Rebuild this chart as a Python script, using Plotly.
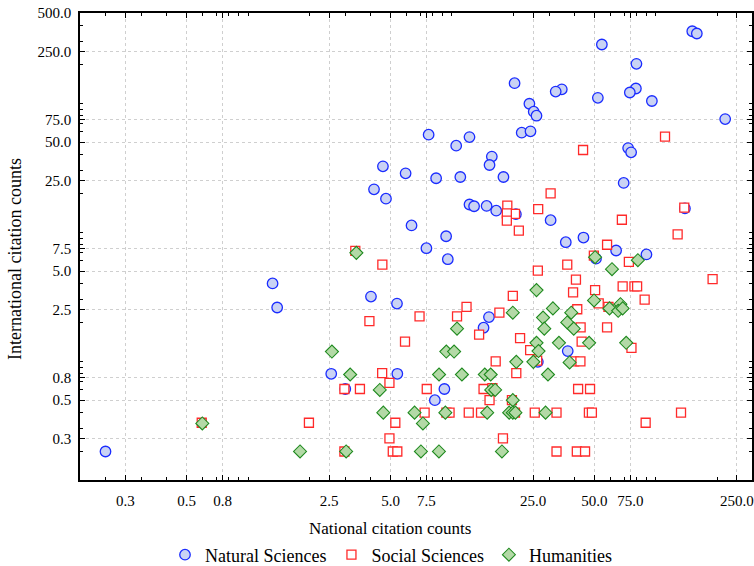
import plotly.graph_objects as go

# ---- data ----
nat_x = [151, 159, 54.4, 80.4, 20.3, 34.6, 32.3, 79.9, 74.6, 52.0, 95.7, 24.0, 25.2, 26.0, 219,
         7.69, 12.2, 22.0, 24.3, 10.5, 73.2, 75.7, 15.7, 15.3, 4.59, 5.93, 8.37, 11.0, 17.9, 69.6,
         4.15, 4.75, 12.2, 12.85, 14.8, 16.5, 20.6, 139, 6.34, 30.5, 9.37, 36.2, 44.2, 7.50, 63.9,
         9.55, 50.9, 90.0, 1.32, 1.39, 4.01, 5.38, 15.2, 14.3, 37.0, 26.4, 2.56, 3.00, 5.40, 9.19,
         8.25, 0.20]
nat_y = [361, 347, 285, 202, 143, 128, 123, 130, 121, 110, 104, 99, 86, 80, 75.3,
         57.0, 54.6, 59.1, 60.5, 46.9, 44.9, 41.6, 38.6, 33.2, 32.4, 28.6, 26.2, 26.8, 26.8, 24.1,
         21.5, 18.2, 16.4, 15.9, 16.0, 14.7, 13.8, 15.3, 11.3, 12.4, 9.31, 8.37, 9.10, 7.52, 7.22,
         6.18, 6.24, 6.73, 4.01, 2.61, 3.17, 2.80, 2.20, 1.82, 1.20, 0.99, 0.80, 0.61, 0.80, 0.61,
         0.50, 0.20]

soc_x = [111, 44.0, 30.5, 18.7, 20.4, 18.6, 18.6, 26.5, 21.3, 138, 68.2, 128, 57.7, 49.7, 73.8,
         36.8, 26.4, 4.56, 3.36, 40.6, 190, 68.8, 78.6, 81.0, 19.9, 39.3, 50.4, 52.5, 88.2, 11.8,
         6.94, 10.6, 17.1, 41.2, 58.6, 42.8, 57.7, 13.6, 5.89, 21.6, 43.3, 76.0, 24.2, 16.4, 26.2,
         39.8, 42.7, 3.94, 4.55, 20.7, 4.94, 7.53, 14.3, 15.8, 41.6, 47.6, 2.97, 3.54, 15.3, 19.7,
         0.593, 1.99, 7.35, 9.40, 9.74, 12.1, 13.9, 20.4, 25.5, 32.6, 47.0, 48.6, 133, 5.28, 89.2,
         4.94, 17.8, 2.97, 5.13, 5.40, 32.6, 41.0, 45.0]
soc_y = [55.1, 43.4, 20.0, 16.1, 13.9, 14.0, 12.3, 15.1, 10.3, 15.5, 12.5, 9.62, 8.00, 6.58, 5.89,
         5.62, 5.04, 5.62, 7.17, 4.29, 4.33, 3.80, 3.80, 3.80, 3.21, 3.42, 3.56, 2.81, 3.01, 2.64,
         2.23, 2.23, 2.38, 2.53, 2.64, 1.83, 1.83, 1.61, 1.42, 1.51, 1.42, 1.27, 1.22, 1.00, 1.01,
         1.00, 1.00, 2.05, 0.81, 0.81, 0.68, 0.61, 0.61, 0.62, 0.61, 0.61, 0.61, 0.61, 0.50, 0.50,
         0.334, 0.334, 0.40, 0.40, 0.40, 0.40, 0.40, 0.40, 0.40, 0.40, 0.40, 0.40, 0.40, 0.334, 0.334,
         0.253, 0.253, 0.20, 0.20, 0.20, 0.20, 0.20, 0.20]

hum_x = [3.40, 50.4, 81.7, 61.0, 26.0, 49.8, 67.1, 59.3, 65.4, 68.8, 31.3, 19.9, 38.5, 28.0, 36.8,
         28.4, 39.6, 10.6, 47.1, 71.6, 26.0, 33.5, 9.39, 10.25, 26.6, 20.7, 25.1, 37.8, 8.65, 11.2,
         14.5, 15.5, 29.6, 4.43, 15.6, 16.3, 19.9, 4.61, 6.56, 9.29, 14.9, 19.1, 19.9, 20.5, 28.8,
         7.21, 7.05, 8.64, 17.6, 2.58, 3.17, 0.597, 1.80, 3.03]
hum_y = [6.92, 6.41, 6.07, 5.17, 3.56, 2.96, 2.77, 2.57, 2.46, 2.57, 2.57, 2.38, 2.38, 2.18, 2.00,
         1.79, 1.79, 1.79, 1.39, 1.39, 1.39, 1.39, 1.19, 1.19, 1.20, 0.99, 0.99, 0.98, 0.79, 0.79,
         0.79, 0.79, 0.79, 0.60, 0.60, 0.60, 0.50, 0.40, 0.40, 0.40, 0.40, 0.40, 0.40, 0.40, 0.40,
         0.33, 0.20, 0.20, 0.20, 1.19, 0.79, 0.33, 0.20, 0.20]

x_tickvals = [0.25, 0.5, 0.75, 2.5, 5, 7.5, 25, 50, 75, 250]
x_ticktext = ["0.3", "0.5", "0.8", "2.5", "5.0", "7.5", "25.0", "50.0", "75.0", "250.0"]
y_tickvals = [0.25, 0.5, 0.75, 2.5, 5, 7.5, 25, 50, 75, 250, 500]
y_ticktext = ["0.3", "0.5", "0.8", "2.5", "5.0", "7.5", "25.0", "50.0", "75.0", "250.0", "500.0"]
minor_vals = [0.2, 0.3, 0.4, 0.6, 0.7, 0.8, 0.9, 1, 2, 3, 4, 6, 7, 8, 9, 10,
              20, 30, 40, 60, 70, 80, 90, 100, 200, 300, 400]

FONT = "Liberation Serif"

fig = go.Figure()
fig.add_trace(go.Scatter(
    x=nat_x, y=nat_y, mode="markers", name="Natural Sciences",
    marker=dict(symbol="circle", size=10.5, color="#cad3f4",
                line=dict(color="#1a2cff", width=1.3))))
fig.add_trace(go.Scatter(
    x=soc_x, y=soc_y, mode="markers", name="Social Sciences",
    marker=dict(symbol="square", size=9, color="white",
                line=dict(color="#ff2a2a", width=1.3))))
fig.add_trace(go.Scatter(
    x=hum_x, y=hum_y, mode="markers", name="Humanities",
    marker=dict(symbol="diamond", size=10, color="#b3d9a6",
                line=dict(color="#1f8a1f", width=1.1))))

axis_common = dict(
    type="log", showline=True, linecolor="black", linewidth=1.6, mirror="ticks",
    ticks="inside", ticklen=5, tickcolor="black", tickwidth=1,
    showgrid=True, gridcolor="#cfcfcf", griddash="dot", gridwidth=1.2,
    zeroline=False, tickmode="array", automargin=False,
    tickfont=dict(family=FONT, size=15, color="black"),
    minor=dict(tickmode="array", tickvals=minor_vals, ticks="inside",
               ticklen=3, tickcolor="black", showgrid=False),
)

fig.update_xaxes(**axis_common, range=[-0.824, 2.472],
                 tickvals=x_tickvals, ticktext=x_ticktext, ticklabelstandoff=6)
fig.update_yaxes(**axis_common, range=[-0.920, 2.699],
                 tickvals=y_tickvals, ticktext=y_ticktext, ticklabelstandoff=4)

fig.add_annotation(text="National citation counts", xref="paper", yref="paper",
                   x=(390 - 80) / 672, y=(480 - 528) / 467, showarrow=False,
                   xanchor="center", yanchor="middle",
                   font=dict(family=FONT, size=17, color="black"))
fig.add_annotation(text="International citation counts", xref="paper", yref="paper",
                   x=(15 - 80) / 672, y=(480 - 259) / 467, showarrow=False,
                   textangle=-90, xanchor="center", yanchor="middle",
                   font=dict(family=FONT, size=18, color="black"))

fig.update_layout(
    width=754, height=566,
    margin=dict(l=80, r=2, t=13, b=86, autoexpand=False),
    paper_bgcolor="white", plot_bgcolor="white",
    showlegend=True,
    legend=dict(orientation="h", x=(391 - 80) / 672, xanchor="center",
                y=(480 - 555) / 467, yanchor="middle",
                font=dict(family=FONT, size=18, color="black"),
                bgcolor="rgba(0,0,0,0)", itemwidth=30),
    font=dict(family=FONT, color="black"),
)

fig.write_html("out.html", config={"displayModeBar": False},
               post_script="document.body.style.margin='0';document.body.style.padding='0';")
